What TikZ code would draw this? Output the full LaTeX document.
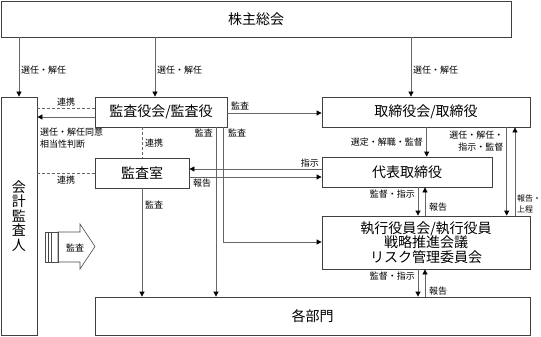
\documentclass[tikz,border=0pt]{standalone}
\usepackage{fontspec}
\newfontfamily\jp{Noto Sans CJK JP}
\usetikzlibrary{arrows.meta,calc}
\begin{document}
\begin{tikzpicture}[x=1pt,y=-1pt,
  box/.style={draw=black!75, line width=0.8pt, inner sep=0pt, align=center,
    font=\jp\fontsize{14}{14.5}\selectfont},
  lbl/.style={inner sep=0pt, font=\jp\fontsize{9}{12}\selectfont},
  ln/.style={draw=black!60, line width=0.8pt},
  arr/.style={ln, -{Triangle[length=5pt,width=5pt,color=black]}},
  dsh/.style={ln, dash pattern=on 3pt off 2pt},
]
\useasboundingbox (0,0) rectangle (541,337);
% boxes
\node[box, minimum width=510pt, minimum height=36pt] (kabu) at (256,19) {株主総会};
\node[box, minimum width=36pt, minimum height=238pt] (kai) at (19,216) {会\\計\\監\\査\\人};
\node[box, minimum width=132pt, minimum height=30pt] (kansa) at (161,112) {監査役会/監査役};
\node[box, minimum width=208pt, minimum height=30pt] (tori) at (426,112) {取締役会/取締役};
\node[box, minimum width=94pt, minimum height=30pt] (shitsu) at (142,173) {監査室};
\node[box, minimum width=170pt, minimum height=30pt] (daihyo) at (407,172) {代表取締役};
\node[box, minimum width=208pt, minimum height=53pt] (shikko) at (426,242.5) {執行役員会/執行役員\\戦略推進会議\\リスク管理委員会};
\node[box, minimum width=435pt, minimum height=38pt] (bumon) at (312.5,316) {各部門};

% helper coordinates
\coordinate (k1) at ($(kansa.north)+(-6,0)$);
\coordinate (t1) at ($(tori.north)+(-15,0)$);
\coordinate (ysAudit) at (0,113);
\coordinate (yKaiD) at (0,108);
\coordinate (yKaiS) at (0,117);
\coordinate (xDsh) at (142.7,0);
\coordinate (yShD) at (0,173);
\coordinate (yShI) at (0,169);
\coordinate (yShH) at (0,177);
\coordinate (xSB) at (142,0);
\coordinate (xKB) at (216,0);
\coordinate (xKE) at (223,0);
\coordinate (yKE) at (0,242);
\coordinate (xTD) at (426.7,0);
\coordinate (xTE) at (506.7,0);
\coordinate (xET) at (515,0);
\coordinate (xDown) at (418,0);
\coordinate (xUp) at (425,0);

% shareholders
\draw[arr] (kai.north |- kabu.south) -- (kai.north);
\draw[arr] (k1 |- kabu.south) -- (k1);
\draw[arr] (t1 |- kabu.south) -- (t1);
\node[lbl, anchor=west] (l1) at (21,70) {選任・解任};
\node[lbl, anchor=west] (l2) at (157,70) {選任・解任};
\node[lbl, anchor=west] (l3) at (413,70) {選任・解任};

% kansa -> tori
\draw[arr] (kansa.east |- ysAudit) -- (tori.west |- ysAudit);
\node[lbl, anchor=west] (l4) at (231,106) {監査};

% kansa <-> kai
\draw[dsh] (kansa.west |- yKaiD) -- (kai.east |- yKaiD);
\node[lbl] (l5) at (66,102) {連携};
\draw[arr] (kansa.west |- yKaiS) -- (kai.east |- yKaiS);
\node[lbl, anchor=north west, align=left] (l6) at (40,127.5) {選任・解任同意\\相当性判断};

% kansa - shitsu
\draw[dsh] (xDsh |- kansa.south) -- (xDsh |- shitsu.north);
\node[lbl, anchor=west] (l7) at (145,143) {連携};

% shitsu - kai
\draw[dsh] (shitsu.west |- yShD) -- (kai.east |- yShD);
\node[lbl] (l8) at (66,180) {連携};

% daihyo <-> shitsu
\draw[arr] (daihyo.west |- yShI) -- (shitsu.east |- yShI);
\node[lbl, anchor=east] (l9) at (319,163) {指示};
\draw[arr] (shitsu.east |- yShH) -- (daihyo.west |- yShH);
\node[lbl, anchor=west] (l10) at (193,183.5) {報告};

% audits to bumon
\draw[arr] (xSB |- shitsu.south) -- (xSB |- bumon.north);
\node[lbl, anchor=west] (l11) at (145,205) {監査};
\draw[arr] (xKB |- kansa.south) -- (xKB |- bumon.north);
\node[lbl, anchor=east] (l12) at (213,133) {監査};
\draw[arr] (xKE |- kansa.south) -- (xKE |- yKE) -- (shikko.west |- yKE);
\node[lbl, anchor=west] (l13) at (228,133) {監査};

% tori -> daihyo
\draw[arr] (xTD |- tori.south) -- (xTD |- daihyo.north);
\node[lbl, anchor=east] (l14) at (423,142) {選定・解職・監督};

% tori <-> shikko
\draw[arr] (xTE |- tori.south) -- (xTE |- shikko.north);
\node[lbl, anchor=east, align=right] (l15) at (503.5,141) {選任・解任・\\指示・監督};
\draw[arr] (xET |- shikko.north) -- (xET |- tori.south);
\node[lbl, anchor=west, align=left, font=\jp\fontsize{8}{11}\selectfont] (l16) at (517,204) {報告・\\上程};

% daihyo <-> shikko
\draw[arr] (xDown |- daihyo.south) -- (xDown |- shikko.north);
\node[lbl, anchor=east] (l17) at (415,194.5) {監督・指示};
\draw[arr] (xUp |- shikko.north) -- (xUp |- daihyo.south);
\node[lbl, anchor=west] (l18) at (429,207) {報告};

% shikko <-> bumon
\draw[arr] (xDown |- shikko.south) -- (xDown |- bumon.north);
\node[lbl, anchor=east] (l19) at (415,276) {監督・指示};
\draw[arr] (xUp |- bumon.north) -- (xUp |- shikko.south);
\node[lbl, anchor=west] (l20) at (429,291) {報告};

% big audit arrow
\draw[draw=black!70, line width=0.6pt, fill=white]
  (58,232) -- (80,232) -- (80,224) -- (95,246.5) -- (80,269) -- (80,262) -- (58,262) -- cycle;
\draw[draw=black!70, line width=0.6pt] (45,232) rectangle (58,262);
\draw[draw=black!75, line width=1.3pt] (48.6,232) -- (48.6,262);
\draw[draw=black!70, line width=0.5pt] (50.8,232) -- (50.8,262);
\node[lbl] (l21) at (75,248) {監査};
\end{tikzpicture}
\end{document}
